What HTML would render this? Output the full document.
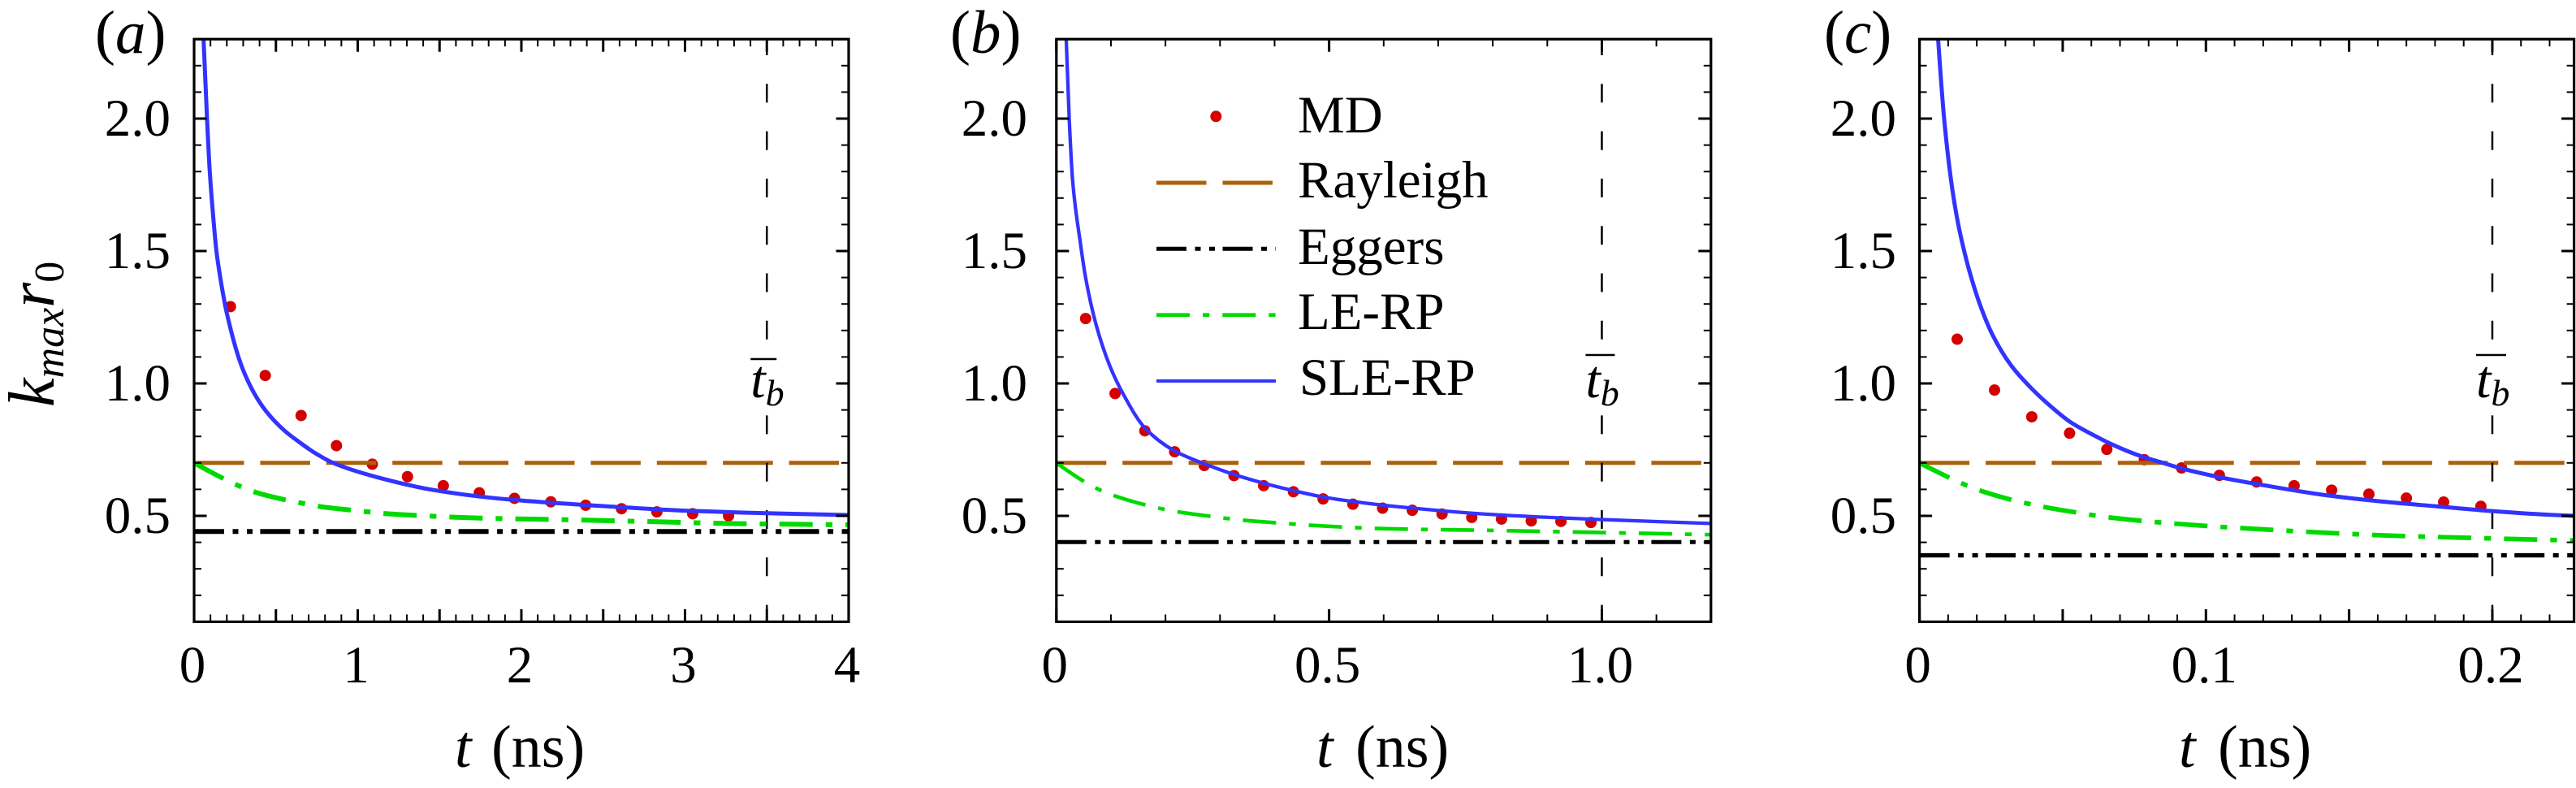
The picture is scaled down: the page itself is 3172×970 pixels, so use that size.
<!DOCTYPE html>
<html lang="en">
<head>
<meta charset="utf-8">
<title>k_max r_0 versus t for three cases</title>
<style>
  html, body { margin: 0; padding: 0; background: #ffffff; }
  svg { display: block; }
  text { font-family: "Liberation Serif", "Times New Roman", serif; fill: #000000; }
</style>
</head>
<body>
<svg id="figure" xmlns="http://www.w3.org/2000/svg" width="3172" height="970" viewBox="0 0 3172 970">
  <rect x="0" y="0" width="3172" height="970" fill="#ffffff"/>
  <g id="panel-a"></g>
  <g id="panel-b"></g>
  <g id="panel-c"></g>

  <text x="117" y="65" font-size="75">(<tspan font-style="italic">a</tspan>)</text>
  <text x="1170" y="65" font-size="75">(<tspan font-style="italic">b</tspan>)</text>
  <text x="2246" y="65" font-size="75">(<tspan font-style="italic">c</tspan>)</text>

  <text transform="translate(66,501) rotate(-90)" font-size="80" font-style="italic">k<tspan font-size="52" dy="12">max</tspan><tspan dy="-12">r</tspan><tspan font-size="52" font-style="normal" dy="12">0</tspan></text>

  <text x="560" y="944" font-size="74"><tspan font-style="italic">t</tspan><tspan dx="6"> (ns)</tspan></text>
  <text x="1621" y="944" font-size="74"><tspan font-style="italic">t</tspan><tspan dx="9"> (ns)</tspan></text>
  <text x="2683" y="944" font-size="74"><tspan font-style="italic">t</tspan><tspan dx="9"> (ns)</tspan></text>

  <g id="legend">
    <circle cx="1497.3" cy="143.3" r="7" fill="#d40000"/>
    <text x="1598" y="163" font-size="65">MD</text>
    <line x1="1424" y1="225" x2="1571" y2="225" stroke="#ad5f0a" stroke-width="5" stroke-dasharray="61.5 20"/>
    <text x="1598" y="243" font-size="65">Rayleigh</text>
    <line x1="1424" y1="306.3" x2="1571" y2="306.3" stroke="#000000" stroke-width="5" stroke-dasharray="37 10.5 7 10.5 7 9.5"/>
    <text x="1598" y="325" font-size="65">Eggers</text>
    <line x1="1424" y1="387.7" x2="1571" y2="387.7" stroke="#00d900" stroke-width="4.7" stroke-dasharray="41 16 8.3 16"/>
    <text x="1598" y="405" font-size="65">LE-RP</text>
    <line x1="1424" y1="469" x2="1571" y2="469" stroke="#3333ff" stroke-width="4"/>
    <text x="1600" y="486" font-size="65">SLE-RP</text>
  </g>
</svg>

<script>
// ---------- chart data ----------
const yTickValues = [0.5, 1.0, 1.5, 2.0];
const yTickLabels = ['0.5', '1.0', '1.5', '2.0'];
const rayleighValue = [0.70];

// Panel (a)
const xTickValuesA = [0, 1, 2, 3, 4];
const xTickLabelsA = ['0', '1', '2', '3', '4'];
const breakupTimeA = [3.5];
const eggersValueA = [0.441];
const mdTimesA = [0.222, 0.435, 0.654, 0.87, 1.089, 1.304, 1.523, 1.743, 1.958, 2.18, 2.393, 2.612, 2.828, 3.047, 3.266];
const mdValuesA = [1.29, 1.03, 0.879, 0.765, 0.695, 0.648, 0.614, 0.587, 0.566, 0.553, 0.54, 0.527, 0.515, 0.508, 0.50];
const sleTimesA = [0.058, 0.079, 0.096, 0.121, 0.137, 0.162, 0.2, 0.3, 0.417, 0.55, 0.635, 0.74, 0.85, 1.13, 1.46, 1.79, 2.0, 2.5, 2.983, 3.5, 4.0];
const sleValuesA = [2.297, 2.0, 1.798, 1.6, 1.497, 1.392, 1.265, 1.05, 0.914, 0.823, 0.782, 0.737, 0.70, 0.644, 0.598, 0.57, 0.558, 0.537, 0.52, 0.51, 0.503];
const leTimesA = [0, 0.195, 0.286, 0.386, 0.576, 0.675, 0.783, 0.973, 1.08, 1.18, 1.378, 1.477, 1.585, 1.783, 2.3, 2.8, 3.28, 3.7, 4.0];
const leValuesA = [0.70, 0.636, 0.61, 0.587, 0.558, 0.546, 0.534, 0.521, 0.514, 0.508, 0.501, 0.498, 0.495, 0.491, 0.485, 0.478, 0.471, 0.468, 0.466];

// Panel (b)
const xTickValuesB = [0, 0.5, 1.0];
const xTickLabelsB = ['0', '0.5', '1.0'];
const breakupTimeB = [1.0];
const eggersValueB = [0.401];
const mdTimesB = [0.0536, 0.1076, 0.1622, 0.2168, 0.271, 0.3256, 0.38, 0.4346, 0.489, 0.5436, 0.598, 0.6525, 0.707, 0.7615, 0.816, 0.8706, 0.925, 0.98];
const mdValuesB = [1.245, 0.962, 0.821, 0.742, 0.69, 0.652, 0.614, 0.591, 0.564, 0.544, 0.529, 0.521, 0.507, 0.494, 0.488, 0.481, 0.479, 0.475];
const sleTimesB = [0.018, 0.0235, 0.03, 0.0442, 0.0531, 0.0729, 0.0978, 0.1225, 0.1622, 0.2168, 0.2708, 0.3259, 0.3805, 0.435, 0.4896, 0.5442, 0.6186, 0.8, 1.0, 1.2];
const sleValuesB = [2.30, 2.0, 1.76, 1.527, 1.405, 1.221, 1.067, 0.96, 0.832, 0.745, 0.697, 0.656, 0.623, 0.595, 0.571, 0.554, 0.536, 0.505, 0.486, 0.471];
const leTimesB = [0, 0.048, 0.0754, 0.105, 0.16, 0.2168, 0.276, 0.336, 0.395, 0.455, 0.514, 0.594, 0.8, 1.0, 1.2];
const leValuesB = [0.70, 0.633, 0.602, 0.577, 0.543, 0.517, 0.50, 0.485, 0.475, 0.466, 0.459, 0.452, 0.445, 0.437, 0.429];

// Panel (c)
const xTickValuesC = [0, 0.1, 0.2];
const xTickLabelsC = ['0', '0.1', '0.2'];
const breakupTimeC = [0.2];
const eggersValueC = [0.351];
const mdTimesC = [0.01316, 0.0262, 0.0392, 0.0524, 0.0654, 0.0785, 0.0915, 0.1047, 0.1177, 0.1308, 0.1439, 0.1569, 0.17, 0.183, 0.196];
const mdValuesC = [1.167, 0.975, 0.874, 0.812, 0.751, 0.712, 0.681, 0.653, 0.628, 0.614, 0.597, 0.582, 0.567, 0.552, 0.536];
const sleTimesC = [0.0065, 0.0086, 0.01137, 0.0134, 0.01533, 0.0174, 0.0212, 0.02543, 0.03206, 0.03867, 0.04576, 0.05285, 0.0604, 0.068, 0.0774, 0.085, 0.0916, 0.1048, 0.12, 0.1426, 0.1615, 0.1805, 0.2, 0.2182, 0.2287];
const sleValuesC = [2.30, 2.0, 1.74, 1.608, 1.512, 1.425, 1.295, 1.185, 1.067, 0.986, 0.914, 0.853, 0.807, 0.766, 0.725, 0.70, 0.679, 0.646, 0.616, 0.577, 0.554, 0.536, 0.518, 0.505, 0.50];
const leTimesC = [0, 0.01126, 0.0169, 0.02214, 0.033, 0.0392, 0.0448, 0.0557, 0.0614, 0.068, 0.0788, 0.1, 0.12, 0.1422, 0.1653, 0.1884, 0.2116, 0.2287];
const leValuesC = [0.70, 0.64, 0.613, 0.592, 0.558, 0.543, 0.531, 0.511, 0.501, 0.492, 0.48, 0.462, 0.449, 0.436, 0.425, 0.418, 0.4115, 0.407];

// ---------- axis functions ----------
const SVG_NS = 'http://www.w3.org/2000/svg';
const yTop = 48.2, yBottom = 765.4, yMin = 0.1, yMax = 2.3;
function yScale(v) { return yBottom - (v - yMin) * (yBottom - yTop) / (yMax - yMin); }

function make(tag, parent, attrs) {
  const el = document.createElementNS(SVG_NS, tag);
  for (const key in attrs) { el.setAttribute(key, attrs[key]); }
  parent.appendChild(el);
  return el;
}

// Monotone cubic (PCHIP) path through the read points.
function smoothPath(xs, ys) {
  const n = xs.length, d = [], h = [], m = [];
  for (let i = 0; i < n - 1; i++) {
    h.push(xs[i + 1] - xs[i]);
    d.push((ys[i + 1] - ys[i]) / h[i]);
  }
  for (let i = 1; i < n - 1; i++) {
    if (d[i - 1] * d[i] > 0) {
      const w1 = 2 * h[i] + h[i - 1];
      const w2 = h[i] + 2 * h[i - 1];
      m[i] = (w1 + w2) / (w1 / d[i - 1] + w2 / d[i]);
    } else {
      m[i] = 0;
    }
  }
  m[0] = d[0] + (d[0] - m[1]) * 0.5;
  m[n - 1] = d[n - 2] + (d[n - 2] - m[n - 2]) * 0.5;
  let out = 'M' + xs[0].toFixed(2) + ' ' + ys[0].toFixed(2);
  for (let i = 0; i < n - 1; i++) {
    out += ' C' + (xs[i] + h[i] / 3).toFixed(2) + ' ' + (ys[i] + m[i] * h[i] / 3).toFixed(2) +
      ' ' + (xs[i + 1] - h[i] / 3).toFixed(2) + ' ' + (ys[i + 1] - m[i + 1] * h[i] / 3).toFixed(2) +
      ' ' + xs[i + 1].toFixed(2) + ' ' + ys[i + 1].toFixed(2);
  }
  return out;
}

function drawPanel(cfg) {
  const g = document.getElementById(cfg.id);
  const left = cfg.left, right = cfg.left + cfg.width;
  const xScale = function (t) { return left + t * cfg.width / cfg.xMax; };

  const defs = make('defs', g, {});
  const clip = make('clipPath', defs, { id: cfg.id + '-clip' });
  make('rect', clip, { x: left, y: yTop, width: cfg.width, height: yBottom - yTop });
  const plot = make('g', g, { 'clip-path': 'url(#' + cfg.id + '-clip)' });
  
  

  // MD points
  cfg.mdT.forEach(function (t, i) {
    const dot = make('circle', plot, { cx: xScale(t), cy: yScale(cfg.mdV[i]), r: 7, fill: '#d40000' });
    
    
  });

  // Rayleigh constant line
  const ray = make('line', plot, {
    x1: xScale(0), x2: xScale(cfg.xMax), y1: yScale(rayleighValue[0]), y2: yScale(rayleighValue[0]),
    stroke: '#ad5f0a', 'stroke-width': 5, 'stroke-dasharray': '61.5 19.9'
  });
  
  

  // Break-up time marker
  const xb = xScale(cfg.tb[0]);
  const vline = make('line', plot, {
    x1: xb, x2: xb, y1: 45, y2: yBottom + 5,
    stroke: '#000000', 'stroke-width': 2.5, 'stroke-dasharray': '23 35.3'
  });
  
  
  const mask = make('rect', plot, { x: xb - 30, y: 425, width: 60, height: 82, fill: '#ffffff' });
  
  

  // Eggers constant line
  const egg = make('line', plot, {
    x1: xScale(0), x2: xScale(cfg.xMax), y1: yScale(cfg.eggers[0]), y2: yScale(cfg.eggers[0]),
    stroke: '#000000', 'stroke-width': cfg.blackWidth, 'stroke-dasharray': '37 10.5 7 10.5 7 9.4'
  });
  
  

  // LE-RP curve
  const le = make('path', plot, {
    d: smoothPath(cfg.leT.map(xScale), cfg.leV.map(yScale)), fill: 'none',
    stroke: '#00d900', 'stroke-width': cfg.greenWidth, 'stroke-dasharray': '41 16 8.3 16'
  });
  
  

  // SLE-RP curve
  const sle = make('path', plot, {
    d: smoothPath(cfg.sleT.map(xScale), cfg.sleV.map(yScale)), fill: 'none',
    stroke: '#3333ff', 'stroke-width': cfg.blueWidth
  });
  
  

  // Ticks on all four sides
  const ticks = make('g', g, { stroke: '#000000', fill: 'none' });
  
  
  const xSteps = Math.round(cfg.xMax / cfg.xMinorStep - 0.3);
  for (let i = 0; i <= xSteps; i++) {
    const major = i % cfg.xMajorEvery === 0;
    const len = major ? 15.5 : 9;
    const w = major ? 3 : 2;
    const x = xScale(i * cfg.xMinorStep);
    const bottomTick = make('line', ticks, { x1: x, x2: x, y1: yBottom, y2: yBottom - len, 'stroke-width': w });
    
    
    const topTick = make('line', ticks, { x1: x, x2: x, y1: yTop, y2: yTop + len, 'stroke-width': w });
    
    
  }
  for (let i = 0; i <= 22; i++) {
    const major = (i + 1) % 5 === 0;
    const len = major ? 15.5 : 9;
    const w = major ? 3 : 2;
    const y = yScale(yMin + i * 0.1);
    const leftTick = make('line', ticks, { x1: left, x2: left + len, y1: y, y2: y, 'stroke-width': w });
    
    
    const rightTick = make('line', ticks, { x1: right, x2: right - len, y1: y, y2: y, 'stroke-width': w });
    
    
  }

  // Frame
  const frame = make('rect', g, {
    x: left, y: yTop, width: cfg.width, height: yBottom - yTop,
    fill: 'none', stroke: '#000000', 'stroke-width': 3.2
  });
  
  

  // Tick labels
  cfg.xTicks.forEach(function (t, i) {
    const label = make('text', g, { x: xScale(t) - 2, y: 840, 'font-size': 65, 'text-anchor': 'middle' });
    label.textContent = cfg.xLabels[i];
    
    
  });
  yTickValues.forEach(function (v, i) {
    const label = make('text', g, { x: cfg.yLabelRight, y: yScale(v) + 21, 'font-size': 65, 'text-anchor': 'end' });
    label.textContent = yTickLabels[i];
    
    
  });

  // Break-up time label: t with an overbar and subscript b
  const tbLabel = make('text', g, { x: xb - 20, y: 489, 'font-size': 66, 'font-style': 'italic' });
  
  
  const tPart = make('tspan', tbLabel, {});
  tPart.textContent = 't';
  const bPart = make('tspan', tbLabel, { 'font-size': 46, dy: 10 });
  bPart.textContent = 'b';
  const bar = make('line', g, {
    x1: xb - 20, x2: xb + cfg.barRight, y1: cfg.barY, y2: cfg.barY, stroke: '#000000', 'stroke-width': 2.6
  });
  
  
}

drawPanel({
  id: 'panel-a', left: 239, width: 806, xMax: 4, xMinorStep: 0.1, xMajorEvery: 5, yLabelRight: 210,
  xTicks: xTickValuesA, xLabels: xTickLabelsA, tb: breakupTimeA, eggers: eggersValueA,
  mdT: mdTimesA, mdV: mdValuesA, sleT: sleTimesA, sleV: sleValuesA, leT: leTimesA, leV: leValuesA,
  blackWidth: 6, greenWidth: 6, blueWidth: 5, barY: 442, barRight: 12
});
drawPanel({
  id: 'panel-b', left: 1300.8, width: 806, xMax: 1.2, xMinorStep: 0.1, xMajorEvery: 5, yLabelRight: 1265,
  xTicks: xTickValuesB, xLabels: xTickLabelsB, tb: breakupTimeB, eggers: eggersValueB,
  mdT: mdTimesB, mdV: mdValuesB, sleT: sleTimesB, sleV: sleValuesB, leT: leTimesB, leV: leValuesB,
  blackWidth: 5, greenWidth: 4.6, blueWidth: 4.3, barY: 437, barRight: 16
});
drawPanel({
  id: 'panel-c', left: 2363.6, width: 806, xMax: 0.22853, xMinorStep: 0.01, xMajorEvery: 5, yLabelRight: 2335,
  xTicks: xTickValuesC, xLabels: xTickLabelsC, tb: breakupTimeC, eggers: eggersValueC,
  mdT: mdTimesC, mdV: mdValuesC, sleT: sleTimesC, sleV: sleValuesC, leT: leTimesC, leV: leValuesC,
  blackWidth: 5.3, greenWidth: 5.7, blueWidth: 5, barY: 437, barRight: 17
});
</script>
</body>
</html>
